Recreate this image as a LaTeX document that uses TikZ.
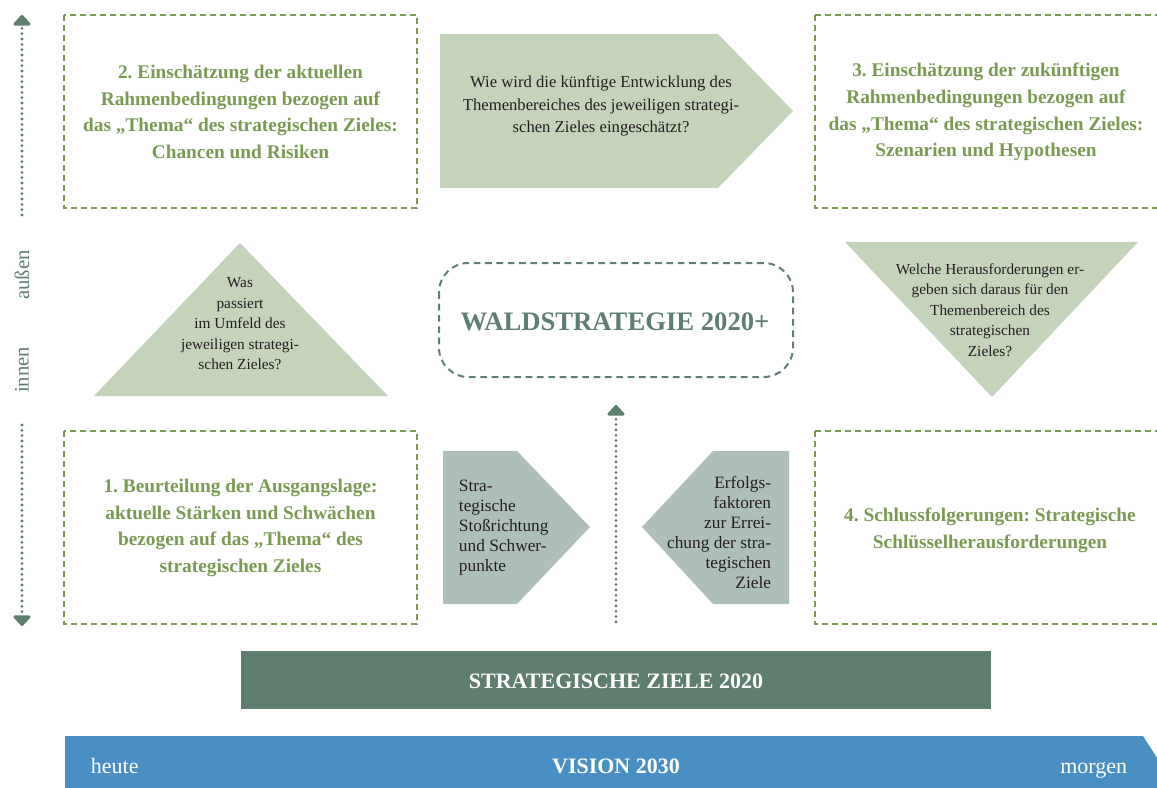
\documentclass[tikz,border=0pt]{standalone}
\usepackage{fontspec}
\setmainfont{Liberation Serif}
\usetikzlibrary{arrows.meta}
\frenchspacing

\definecolor{titelgruen}{HTML}{7A9A52}
\definecolor{hellgruen}{HTML}{C5D3BB}
\definecolor{graugruen}{HTML}{AEBFB7}
\definecolor{dunkelgruen}{HTML}{5E7E6F}
\definecolor{blau}{HTML}{4A8FC4}
\definecolor{schrift}{HTML}{231F20}

\tikzset{every picture/.style={line width=0.75pt}}
\tikzset{
  rahmen/.style={draw=titelgruen, line width=1.5pt, dash pattern=on 4.5pt off 3pt},
  titel/.style={text=titelgruen, font=\bfseries\fontsize{14.5}{20}\selectfont, align=center},
  frage/.style={text=schrift, font=\fontsize{12.5}{17}\selectfont, align=center},
  dreieckfrage/.style={text=schrift, font=\fontsize{11.5}{15.4}\selectfont, align=center},
  pfeilfrage/.style={text=schrift, font=\fontsize{13}{15}\selectfont},
  achse/.style={draw=dunkelgruen, line width=2.3pt, line cap=round, dash pattern=on 0pt off 4pt},
  spitze/.style={-{Triangle[width=15pt,length=8.5pt,round=false]}},
  balkentext/.style={text=white, font=\bfseries\fontsize{16.5}{16.5}\selectfont},
  zeitpunkt/.style={text=white, font=\fontsize{16.5}{16.5}\selectfont},
}

\begin{document}
\begin{tikzpicture}[x=0.75pt,y=0.75pt,yscale=-1,xscale=1]
	\useasboundingbox (0,0) rectangle (1157,788);

	%Shape: Rectangle (dashed frames)
	\draw[rahmen] (64,15) rectangle (417,208);
	\draw[rahmen] (815,15) rectangle (1160,208);
	\draw[rahmen] (64,431) rectangle (417,624);
	\draw[rahmen] (815,431) rectangle (1160,624);

	%Shape: Pentagon (top)
	\fill[hellgruen] (440,34) -- (718,34) -- (793,111) -- (718,188) -- (440,188) -- cycle;
	%Shape: Triangles
	\fill[hellgruen] (94,396) -- (240,243) -- (388,396) -- cycle;
	\fill[hellgruen] (845,242) -- (1138,242) -- (992,397) -- cycle;
	%Shape: Pentagons (bottom)
	\fill[graugruen] (443,451) -- (517,451) -- (590,527) -- (517,604) -- (443,604) -- cycle;
	\fill[graugruen] (789,451) -- (713,451) -- (642,527) -- (713,604) -- (789,604) -- cycle;

	%Shape: Rounded rectangle
	\draw[dunkelgruen, line width=1.5pt, dash pattern=on 5pt off 3.5pt, rounded corners=22pt] (439,263) rectangle (793,377);

	%Shape: Bars
	\fill[dunkelgruen] (241,651) rectangle (991,709);
	\fill[blau] (65,736) -- (1143,736) -- (1168,775) -- (1143,814) -- (65,814) -- cycle;

	%Axis (left) and middle arrow
	\coordinate (achseoben) at (22,15);
	\coordinate (achseobenende) at (22,215);
	\coordinate (achseunten) at (22,626);
	\coordinate (achseuntenende) at (22,425);
	\coordinate (mitteoben) at (616,405);
	\coordinate (mitteunten) at (616,622);
	\draw[achse, spitze] (achseobenende) -- (achseoben);
	\draw[achse, spitze] (achseuntenende) -- (achseunten);
	\draw[achse, spitze] (mitteunten) -- (mitteoben);

	% Text Node
	\draw (22,275) node[rotate=90, text=dunkelgruen, font=\fontsize{15.5}{15.5}\selectfont] (aussen) {außen};
	% Text Node
	\draw (22,370) node[rotate=90, text=dunkelgruen, font=\fontsize{15.5}{15.5}\selectfont] (innen) {innen};

	% Text Node
	\draw (240.5,112) node[titel] (rahmenaktuell) {2. Einschätzung der aktuellen\\Rahmenbedingungen bezogen auf\\das „Thema“ des strategischen Zieles:\\Chancen und Risiken};
	% Text Node
	\draw (986,112) node[titel] (rahmenkuenftig) {3. Einschätzung der zukünftigen\\Rahmenbedingungen bezogen auf\\das „Thema“ des strategischen Zieles:\\Szenarien und Hypothesen};
	% Text Node
	\draw (240.5,528) node[titel] (ausgangslage) {1. Beurteilung der Ausgangslage:\\aktuelle Stärken und Schwächen\\bezogen auf das „Thema“ des\\strategischen Zieles};
	% Text Node
	\draw (990,530) node[titel] (schluss) {4. Schlussfolgerungen: Strategische\\Schlüsselherausforderungen};

	% Text Node
	\draw (601,106) node[frage] (entwicklung) {Wie wird die künftige Entwicklung des\\Themenbereiches des jeweiligen strategi-\\schen Zieles eingeschätzt?};
	% Text Node
	\draw (240,324) node[dreieckfrage] (umfeld) {Was\\passiert\\im Umfeld des\\jeweiligen strategi-\\schen Zieles?};
	% Text Node
	\draw (990,310) node[dreieckfrage] (herausforderung) {Welche Herausforderungen er-\\geben sich daraus für den\\Themenbereich des\\strategischen\\Zieles?};
	% Text Node
	\draw (454,528) node[pfeilfrage, anchor=west, align=left] (stossrichtung) {Stra-\\tegische\\Stoßrichtung\\und Schwer-\\punkte};
	% Text Node
	\draw (776,532) node[pfeilfrage, anchor=east, align=right] (erfolg) {Erfolgs-\\faktoren\\zur Errei-\\chung der stra-\\tegischen\\Ziele};

	% Text Node
	\draw (615,322) node[text=dunkelgruen, font=\bfseries\fontsize{20}{20}\selectfont] (waldstrategie) {WALDSTRATEGIE 2020+};
	% Text Node
	\draw (616,681) node[balkentext] (ziele) {STRATEGISCHE ZIELE 2020};
	% Text Node
	\draw (616,773) node[balkentext, anchor=base] (vision) {VISION 2030};
	% Text Node
	\draw (86,773) node[zeitpunkt, anchor=base west] (heute) {heute};
	% Text Node
	\draw (1132,773) node[zeitpunkt, anchor=base east] (morgen) {morgen};

\end{tikzpicture}
\end{document}
